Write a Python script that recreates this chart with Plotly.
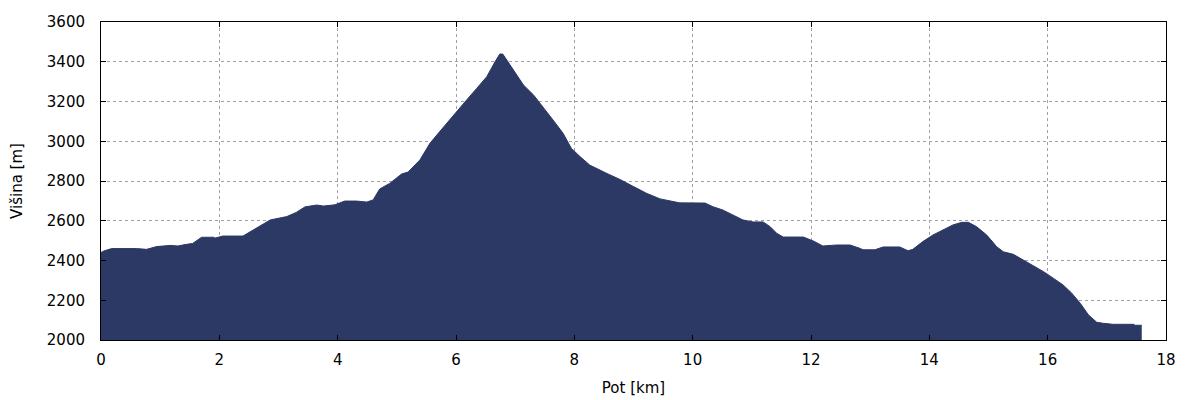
import plotly.graph_objects as go

distance_km = [0.0, 0.05, 0.18, 0.6, 0.77, 0.94, 1.17, 1.3, 1.42, 1.55, 1.70, 1.9, 1.93, 2.06, 2.4,
               2.57, 2.72, 2.86, 3.14, 3.3, 3.45, 3.65, 3.76, 3.95, 4.12, 4.32, 4.49, 4.6,
               4.71, 4.88, 5.08, 5.19, 5.39, 5.56, 5.7, 5.84, 6.01, 6.18, 6.35, 6.52, 6.66,
               6.74, 6.79, 6.86, 6.97, 7.14, 7.31, 7.47, 7.64, 7.81, 7.95, 8.1, 8.26, 8.55,
               8.77, 9.0, 9.22, 9.45, 9.62, 9.78, 10.21, 10.34, 10.51, 10.68, 10.85, 11.02,
               11.19, 11.31, 11.42, 11.53, 11.87, 12.04, 12.2, 12.43, 12.66, 12.83, 12.88,
               13.08, 13.22, 13.5, 13.64, 13.72, 13.89, 14.06, 14.23, 14.4, 14.55, 14.66,
               14.8, 14.97, 15.14, 15.25, 15.42, 15.59, 15.76, 15.93, 16.1, 16.26, 16.4,
               16.55, 16.69, 16.83, 16.94, 17.1, 17.45, 17.48, 17.59]
elevation_m = [2440, 2448, 2460, 2460, 2456, 2470, 2476, 2473, 2480, 2486, 2517, 2517, 2513, 2523, 2523,
               2553, 2580, 2604, 2621, 2642, 2670, 2679, 2674, 2680, 2699, 2699, 2694, 2705,
               2760, 2788, 2835, 2845, 2906, 2990, 3040, 3090, 3149, 3208, 3266, 3325, 3400,
               3439, 3439, 3409, 3358, 3283, 3233, 3174, 3107, 3040, 2964, 2922, 2880, 2838,
               2808, 2772, 2738, 2710, 2698, 2690, 2689, 2671, 2654, 2629, 2604, 2594,
               2594, 2570, 2537, 2518, 2518, 2498, 2473, 2478, 2478, 2461, 2454,
               2454, 2468, 2468, 2449, 2456, 2495, 2528, 2553, 2579, 2592, 2592,
               2570, 2528, 2469, 2444, 2431, 2403, 2372, 2344, 2310, 2277, 2238,
               2185, 2126, 2089, 2084, 2079, 2079, 2074, 2074]

x_ticks = [0, 2, 4, 6, 8, 10, 12, 14, 16, 18]
y_ticks = [2000, 2200, 2400, 2600, 2800, 3000, 3200, 3400, 3600]

fig = go.Figure()
fig.add_trace(go.Scatter(
    x=distance_km, y=elevation_m, mode="lines",
    fill="tozeroy", fillcolor="#2b3964",
    line=dict(color="#2b3964", width=1),
    hoverinfo="skip", showlegend=False,
))

font15 = dict(family="DejaVu Sans", size=15, color="black")
axis_common = dict(
    showline=True, linecolor="black", linewidth=1, mirror="ticks",
    ticks="inside", ticklen=5, tickcolor="black", tickwidth=1,
    showgrid=True, gridcolor="#a0a0a0", griddash="dot", gridwidth=1,
    zeroline=False, automargin=False, layer="above traces",
    tickfont=font15,
)

fig.update_xaxes(range=[0, 18], tickvals=x_ticks, ticktext=[str(v) for v in x_ticks],
                 ticklabelstandoff=6,
                 title=dict(text="Pot [km]", font=font15, standoff=14),
                 **axis_common)
fig.update_yaxes(range=[2000, 3600], tickvals=y_ticks, ticktext=[str(v) for v in y_ticks],
                 ticklabelstandoff=12,
                 title=dict(text="Višina [m]", font=font15, standoff=27),
                 **axis_common)

fig.update_layout(
    width=1200, height=400,
    margin=dict(l=93, r=42, t=14, b=68),
    paper_bgcolor="white", plot_bgcolor="white",
    font=font15,
)

fig.write_html("out.html")
